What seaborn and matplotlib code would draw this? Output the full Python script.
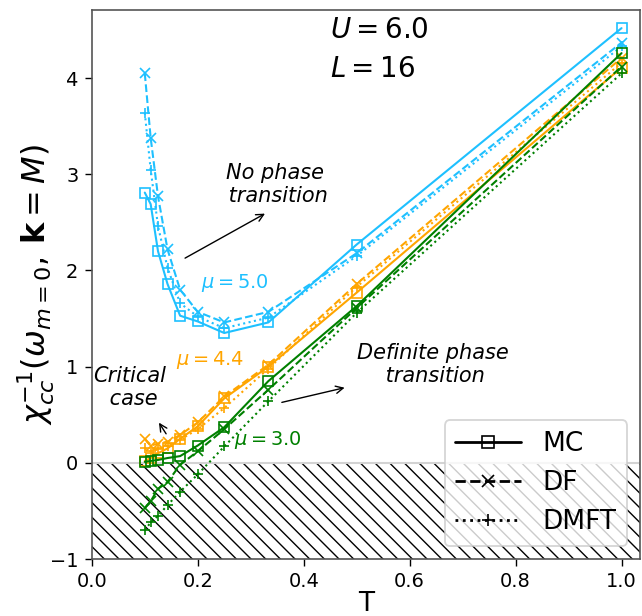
import numpy as np
import pandas as pd
import matplotlib
matplotlib.use("Agg")
import matplotlib.pyplot as plt
import seaborn as sns
from matplotlib.lines import Line2D

sns.set_style("ticks")
plt.rcParams["font.family"] = ["DejaVu Sans"]
plt.rcParams["mathtext.fontset"] = "dejavusans"
for key in ["text.color", "axes.labelcolor", "xtick.color", "ytick.color"]:
    plt.rcParams[key] = "black"

DPI = 132
k = 100 / DPI  # sizes below are given for a 100-dpi canvas
plt.rcParams["hatch.linewidth"] = 1.0 * k
BACKSLASH = chr(92)

# Temperatures (1/T = 10 ... 1)
T = [0.1, 0.1111, 0.125, 0.1429, 0.1667, 0.2, 0.25, 0.3333, 0.5, 1.0]

# mu = 5.0
mc_50 = [2.81, 2.69, 2.20, 1.86, 1.53, 1.47, 1.35, 1.46, 2.27, 4.52]
df_50 = [4.05, 3.38, 2.77, 2.22, 1.80, 1.57, 1.46, 1.57, 2.18, 4.37]
dmft_50 = [3.64, 3.05, 2.46, 2.03, 1.66, 1.52, 1.40, 1.51, 2.15, 4.33]

# mu = 4.4
mc_44 = [0.02, 0.05, 0.10, 0.15, 0.25, 0.38, 0.67, 1.00, 1.77, 4.11]
df_44 = [0.25, 0.18, 0.20, 0.22, 0.29, 0.42, 0.69, 1.02, 1.86, 4.21]
dmft_44 = [0.15, 0.12, 0.14, 0.18, 0.24, 0.35, 0.57, 0.98, 1.83, 4.16]

# mu = 3.0
mc_30 = [0.01, 0.02, 0.03, 0.05, 0.07, 0.18, 0.37, 0.85, 1.63, 4.26]
df_30 = [-0.47, -0.40, -0.27, -0.20, -0.02, 0.12, 0.35, 0.76, 1.61, 4.12]
dmft_30 = [-0.70, -0.62, -0.55, -0.44, -0.30, -0.12, 0.17, 0.64, 1.56, 4.05]

series = [
    ("5.0", "#1EC0FF", [mc_50, df_50, dmft_50]),
    ("4.4", "orange", [mc_44, df_44, dmft_44]),
    ("3.0", "green", [mc_30, df_30, dmft_30]),
]
methods = ["MC", "DF", "DMFT"]
styles = {"MC": ("-", "s"), "DF": ("--", "x"), "DMFT": (":", "+")}

fig, ax = plt.subplots(figsize=(642 / DPI, 616 / DPI), dpi=DPI)
fig.subplots_adjust(left=0.143, right=0.997, top=0.984, bottom=0.0925)

xmax = 1.035
ax.fill_between([0, xmax], -1, 0, hatch=BACKSLASH * 3, facecolor="white",
                edgecolor="black", linewidth=0, zorder=0)
ax.axhline(0, color="lightgray", lw=1.5 * k, zorder=1)

for mu, color, vals in series:
    for m, v in zip(methods, vals):
        ls, mk = styles[m]
        sns.lineplot(x=T, y=v, ax=ax, color=color, linestyle=ls, marker=mk,
                     markersize=7.5 * k, markerfacecolor="none",
                     markeredgecolor=color, markeredgewidth=1.2 * k,
                     lw=1.5 * k, sort=False, estimator=None)

ax.set_xlim(0, xmax)
ax.set_ylim(-1, 4.71)
ax.set_xticks([0.0, 0.2, 0.4, 0.6, 0.8, 1.0])
ax.set_yticks([-1, 0, 1, 2, 3, 4])
ax.tick_params(labelsize=14 * k, width=1 * k, length=5 * k)
for s in ax.spines.values():
    s.set_color("#555555")
    s.set_linewidth(1.2 * k)

ax.set_xlabel("T", fontsize=19 * k, labelpad=0)
ax.set_ylabel(r"$\chi^{-1}_{cc}(\omega_{m=0},\, \mathbf{k}=M)$",
              fontsize=23 * k, labelpad=-4)

ax.text(0.45, 4.5, r"$U = 6.0$", fontsize=20 * k, va="center")
ax.text(0.45, 4.1, r"$L = 16$", fontsize=20 * k, va="center")

ax.text(0.27, 1.87, r"$\mu = 5.0$", color="#1EC0FF", fontsize=14 * k,
        ha="center", va="center")
ax.text(0.223, 1.07, r"$\mu = 4.4$", color="orange", fontsize=14 * k,
        ha="center", va="center")
ax.text(0.333, 0.24, r"$\mu = 3.0$", color="green", fontsize=14 * k,
        ha="center", va="center")

ax.text(0.345, 2.89, "No phase\n transition", style="italic",
        fontsize=15 * k, ha="center", va="center")
ax.annotate("", xy=(0.333, 2.61), xytext=(0.17, 2.11),
            arrowprops=dict(arrowstyle="->", color="black", lw=1 * k))
ax.text(0.643, 1.02, "Definite phase\n transition", style="italic",
        fontsize=15 * k, ha="center", va="center")
ax.annotate("", xy=(0.484, 0.79), xytext=(0.352, 0.62),
            arrowprops=dict(arrowstyle="->", color="black", lw=1 * k))
ax.text(0.072, 0.78, "Critical\n case", style="italic", fontsize=15 * k,
        ha="center", va="center")
ax.annotate("", xy=(0.123, 0.45), xytext=(0.144, 0.27),
            arrowprops=dict(arrowstyle="->", color="black", lw=1 * k))

handles = [Line2D([], [], color="black", linestyle=styles[m][0],
                  marker=styles[m][1], markerfacecolor="none",
                  markersize=8 * k, markeredgewidth=1.2 * k, lw=2 * k)
           for m in methods]
ax.legend(handles, methods, loc="lower right", fontsize=19 * k,
          framealpha=0.8, handlelength=2.5, borderaxespad=0.5)

fig.savefig("out.png", dpi=DPI)
